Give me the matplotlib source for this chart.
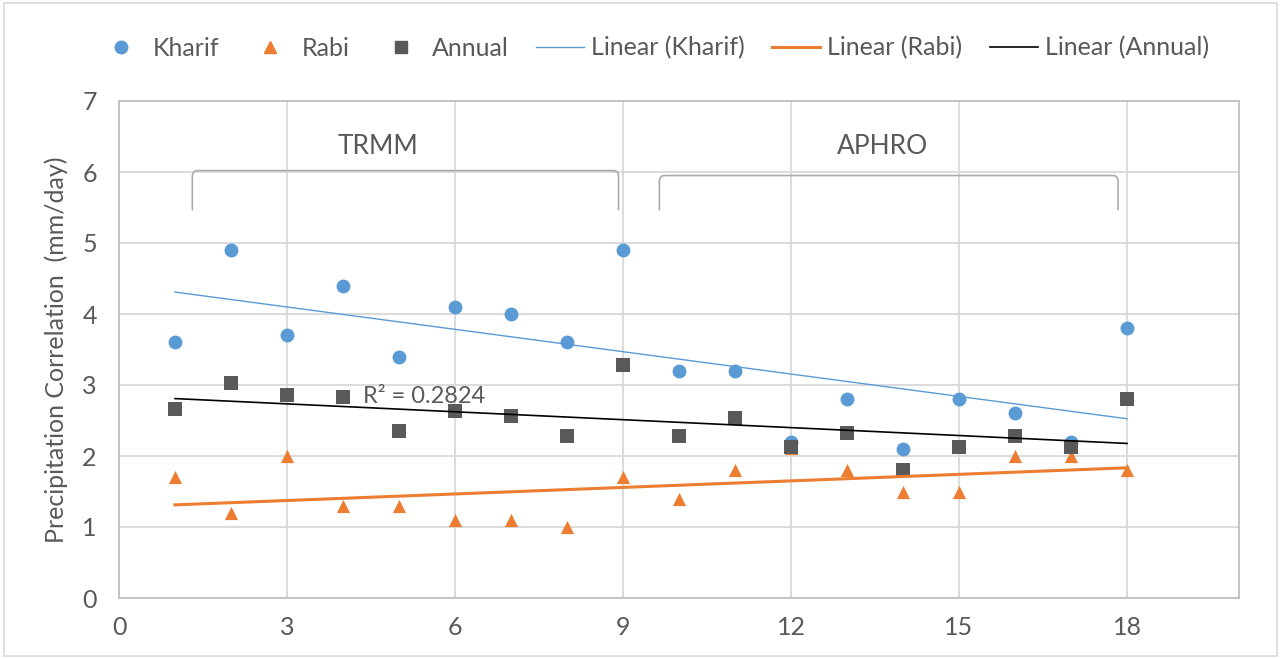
import matplotlib
matplotlib.use("Agg")
import matplotlib.pyplot as plt
import numpy as np
from matplotlib.path import Path
from matplotlib.patches import PathPatch, Rectangle
from matplotlib.lines import Line2D

plt.rcParams['font.family'] = ['Lato', 'DejaVu Sans']

# station index 1..18 (1-9 TRMM, 10-18 APHRO)
stations = np.arange(1, 19)
kharif = [3.6, 4.9, 3.7, 4.4, 3.4, 4.1, 4.0, 3.6, 4.9,
          3.2, 3.2, 2.2, 2.8, 2.1, 2.8, 2.6, 2.2, 3.8]
rabi = [1.7, 1.2, 2.0, 1.3, 1.3, 1.1, 1.1, 1.0, 1.7,
        1.4, 1.8, 2.11, 1.8, 1.5, 1.5, 2.0, 2.0, 1.8]
annual = [2.66, 3.03, 2.86, 2.83, 2.35, 2.63, 2.56, 2.28, 3.28,
          2.28, 2.53, 2.12, 2.33, 1.80, 2.13, 2.28, 2.12, 2.80]
r2_label = "R² = 0.2824"

c_kharif = '#5B9BD5'
c_rabi = '#ED7D31'
c_annual = '#595959'
txt = '#595959'

fig = plt.figure(figsize=(12.81, 6.59), dpi=100)
ax = fig.add_axes([119 / 1281, 61 / 659, 1120 / 1281, 497 / 659])

# outer chart frame
fig.patches.append(Rectangle((0.003, 0.004), 0.994, 0.992, transform=fig.transFigure,
                             fill=False, edgecolor='#D9D9D9', linewidth=1.2))

ax.scatter(stations, kharif, s=100, marker='o', color=c_kharif, zorder=3, linewidths=0)
ax.scatter(stations, rabi, s=90, marker='^', color=c_rabi, zorder=4, linewidths=0)
ax.scatter(stations, annual, s=110, marker='s', color=c_annual, zorder=5, linewidths=0)

# linear trend lines
xs = np.array([stations[0], stations[-1]])
for vals, col, lw in [(kharif, c_kharif, 1.0), (rabi, c_rabi, 2.2), (annual, 'black', 1.2)]:
    k, b = np.polyfit(stations, vals, 1)
    ax.plot(xs, k * xs + b, color=col, linewidth=lw, zorder=6)

ax.text(4.36, 2.84, r2_label, fontsize=17, color=txt, va='center', ha='left', zorder=7)


def bracket(x0, x1, ytop, ybot, r=0.09):
    ry = r * 0.9
    verts = [(x0, ybot), (x0, ytop - ry), (x0, ytop), (x0 + r, ytop),
             (x1 - r, ytop), (x1, ytop), (x1, ytop - ry), (x1, ybot)]
    codes = [Path.MOVETO, Path.LINETO, Path.CURVE3, Path.CURVE3,
             Path.LINETO, Path.CURVE3, Path.CURVE3, Path.LINETO]
    ax.add_patch(PathPatch(Path(verts, codes), fill=False, edgecolor='#ABABAB',
                           linewidth=1.2, zorder=2))


bracket(1.31, 8.92, 6.02, 5.46)
bracket(9.65, 17.84, 5.95, 5.46)
ax.text(4.63, 6.36, 'TRMM', fontsize=19, color=txt, ha='center', va='center')
ax.text(13.64, 6.36, 'APHRO', fontsize=19, color=txt, ha='center', va='center')

ax.set_xlim(0, 20)
ax.set_ylim(0, 7)
ax.set_xticks(np.arange(0, 19, 3))
ax.set_yticks(np.arange(0, 8, 1))
ax.grid(True, color='#D9D9D9', linewidth=1.3, zorder=0)
ax.set_axisbelow(True)
for s in ax.spines.values():
    s.set_color('#BFBFBF')
    s.set_linewidth(1.3)
ax.tick_params(length=0, labelsize=18, labelcolor=txt, pad=13)
ax.tick_params(axis='y', pad=16)
ax.set_ylabel('Precipitation Correlation  (mm/day)', fontsize=18, color=txt, labelpad=10)

handles = [
    Line2D([], [], marker='o', color=c_kharif, linestyle='none', markersize=9),
    Line2D([], [], marker='^', color=c_rabi, linestyle='none', markersize=9),
    Line2D([], [], marker='s', color=c_annual, linestyle='none', markersize=9),
    Line2D([], [], color=c_kharif, linewidth=1.0),
    Line2D([], [], color=c_rabi, linewidth=2.2),
    Line2D([], [], color='black', linewidth=1.2),
]
labels = ['Kharif', 'Rabi', 'Annual', 'Linear (Kharif)', 'Linear (Rabi)', 'Linear (Annual)']
leg = fig.legend(handles, labels, loc='center', bbox_to_anchor=(0.51, 1 - 48 / 659),
                 ncol=6, frameon=False, fontsize=18, handlelength=1.9,
                 handletextpad=0.3, columnspacing=1.1)
for t in leg.get_texts():
    t.set_color(txt)

fig.savefig('out.png', dpi=100)
